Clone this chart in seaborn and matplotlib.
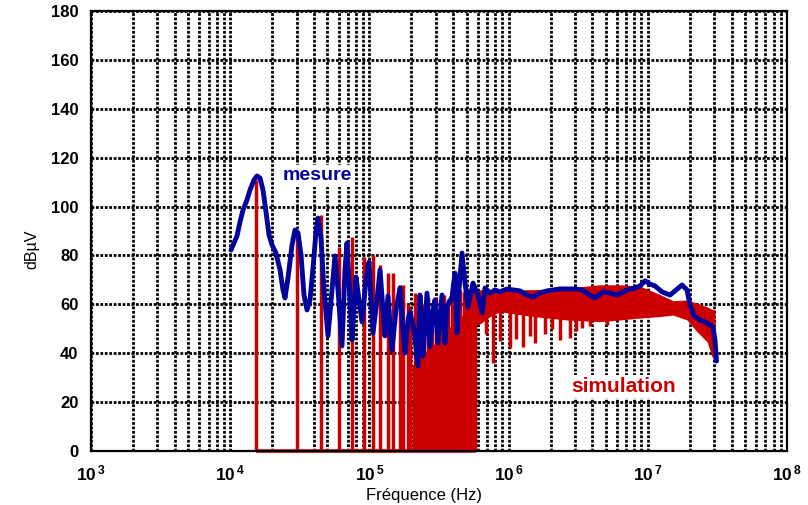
import numpy as np
import pandas as pd
import matplotlib
matplotlib.use("Agg")
import matplotlib.pyplot as plt
from matplotlib.ticker import FixedLocator, FuncFormatter, NullFormatter, LogLocator
import seaborn as sns

# ---------------- data ----------------
# measured spectrum ("mesure")
mes_freq_khz = [10.13, 10.65, 11.19, 11.76, 12.36, 13.20, 13.88, 14.83, 15.58, 16.37,
                17.20, 18.08, 19.00, 19.97, 21.33, 22.79, 23.95, 24.76, 26.02, 27.80,
                29.21, 30.70, 32.26, 33.90, 35.63, 37.44, 39.34, 41.34, 42.73, 44.90,
                47.19, 50.42, 53.86, 56.60, 59.48, 63.56, 66.79, 69.04, 72.55, 74.99,
                80.11, 84.19, 88.47, 94.53, 99.33, 106.1, 113.4, 119.2, 125.2, 129.4,
                136.0, 145.3, 155.3, 165.9, 174.3, 180.2, 189.4, 195.7, 209.1, 223.4,
                230.9, 242.7, 259.3, 272.5, 286.4, 296.0, 311.1, 332.4, 349.3, 361.1,
                392.2, 412.0, 425.9, 440.3, 462.7, 486.3, 510.9, 555.0, 603.0, 644.1,
                676.9, 735.3, 798.8, 867.7, 974.0, 1076, 1208, 1356, 1497, 1681,
                1887, 2340, 3000, 3368, 3844, 4176, 4767, 5350, 6007, 7090,
                8091, 8790, 9548, 10370, 11270, 12650, 14440, 15680, 17610, 19130,
                20100, 21480, 23710, 26630, 29400, 30390, 31160]
mes_db = [82.2, 85.1, 88.0, 93.7, 98.6, 102.7, 106.8, 110.9, 112.5, 111.7,
          106.8, 97.8, 88.4, 84.3, 81.0, 74.1, 65.9, 62.6, 70.8, 84.3,
          90.4, 89.2, 80.2, 63.8, 57.7, 61.8, 74.9, 89.6, 95.3, 87.2,
          65.9, 47.1, 65.9, 79.8, 65.9, 43.0, 74.1, 85.1, 61.8, 45.4,
          71.2, 61.8, 52.8, 70.0, 77.3, 48.3, 61.8, 74.1, 57.7, 47.1,
          63.4, 41.3, 57.7, 66.7, 49.5, 40.1, 53.6, 56.9, 49.5, 34.8,
          63.8, 38.9, 64.6, 42.6, 57.7, 61.8, 44.2, 63.8, 44.2, 58.9,
          63.0, 72.8, 48.3, 65.9, 81.0, 68.7, 58.9, 68.7, 63.8, 56.5,
          66.7, 64.6, 65.9, 65.1, 66.3, 65.9, 65.5, 63.8, 63.0, 64.6,
          65.5, 66.3, 66.3, 65.9, 63.8, 62.6, 65.1, 64.6, 63.8, 65.9,
          66.7, 67.5, 69.6, 68.3, 67.5, 65.1, 63.8, 65.5, 67.9, 65.9,
          59.7, 55.2, 53.6, 52.4, 50.7, 45.4, 36.8]

# simulated spectrum ("simulation"): harmonic lines rising from 0 dB
sim_spike_freq_khz = [15.33, 30.20, 44.90, 60.47, 74.99, 91.45, 106.1, 119.2, 136.0, 147.7,
                      165.9, 174.3, 189.4, 195.7, 212.6, 230.9, 246.7, 263.6, 281.7, 300.9,
                      321.5, 343.5, 367.1, 392.2, 418.9, 447.6, 478.2, 510.9, 545.9, 573.6]
sim_spike_db = [110.9, 89.2, 96.6, 83.5, 87.6, 79.4, 80.2, 76.1, 72.8, 72.8,
                68.0, 67.9, 60.0, 58.5, 64.6, 62.0, 60.0, 63.0, 58.0, 63.0,
                61.0, 64.0, 62.0, 65.0, 64.0, 66.0, 65.0, 66.0, 67.0, 66.0]

# simulated spectrum: dense band (lower / upper envelope)
sim_band_freq_khz = [202.3, 230.9, 272.5, 321.5, 379.3, 447.6, 510.9, 555.0, 583.0, 583.0,
                     623.0, 735.3, 867.7, 1497, 2627, 4536, 6316, 8790, 12240, 15170,
                     19130, 22560, 26630, 28930, 30390]
sim_band_lo_db = [0, 0, 0, 0, 0, 0, 0, 0, 0, 52,
                  52, 55, 57, 55, 53.6, 52.9, 53.6, 54.4, 55, 55.6,
                  53.6, 48.8, 44.7, 38.6, 36.5]
sim_band_hi_db = [35, 38.5, 42.6, 45.4, 50.8, 53.6, 60.5, 63, 64, 64,
                  66, 66, 66, 66, 66.7, 68, 68, 67.5, 64, 61.5,
                  61.8, 60.5, 59, 58, 57.7]

# simulated spectrum: deep notches inside the band
sim_dip_freq_khz = [688, 773, 868, 1023, 1131, 1270, 1425, 1550, 1826, 2050,
                    2340, 2760, 3050, 3368, 3844, 5093]
sim_dip_db = [48, 36, 45, 42, 46, 42.6, 47, 44, 48, 50,
              45.4, 46.2, 49, 50.3, 51, 51.6]

x_major = [1e3, 1e4, 1e5, 1e6, 1e7, 1e8]
x_exponents = [3, 4, 5, 6, 7, 8]
y_ticks = [0, 20, 40, 60, 80, 100, 120, 140, 160, 180]

BLUE = "#02029c"
RED = "#cc0000"

# ---------------- style ----------------
sns.set_theme(style="white")
plt.rcParams['font.family'] = ['Liberation Sans', 'DejaVu Sans']
plt.rcParams['mathtext.fontset'] = 'custom'
plt.rcParams['mathtext.rm'] = 'Liberation Sans:bold'
plt.rcParams['mathtext.bf'] = 'Liberation Sans:bold'
plt.rcParams['mathtext.it'] = 'Liberation Sans:bold'
plt.rcParams['text.color'] = 'black'
plt.rcParams['xtick.color'] = 'black'
plt.rcParams['ytick.color'] = 'black'
plt.rcParams['axes.labelcolor'] = 'black'

fig = plt.figure(figsize=(8.08, 5.05), dpi=100)
ax = fig.add_axes([91 / 808, 54 / 505, 696 / 808, 440 / 505])
ax.set_xscale('log')
ax.set_xlim(x_major[0], x_major[-1])
ax.set_ylim(y_ticks[0], y_ticks[-1])

# grid
ax.xaxis.set_major_locator(FixedLocator(x_major))
ax.xaxis.set_minor_locator(LogLocator(base=10, subs=np.arange(2, 10)))
ax.xaxis.set_minor_formatter(NullFormatter())
ax.xaxis.set_major_formatter(FuncFormatter(
    lambda v, p: r"$10^{\,%d}$" % x_exponents[x_major.index(v)] if v in x_major else ""))
ax.yaxis.set_major_locator(FixedLocator(y_ticks))
ax.set_axisbelow(True)
ax.grid(which='both', axis='x', color='black', linestyle=(0, (1, 0.6)), linewidth=2.0)
ax.grid(which='major', axis='y', color='black', linestyle=(0, (1, 0.6)), linewidth=2.0)

ax.tick_params(axis='both', which='both', length=0, colors='black')
ax.tick_params(axis='y', pad=9, labelsize=12)
ax.tick_params(axis='x', pad=9, labelsize=12.5)
for lab in ax.get_yticklabels():
    lab.set_fontweight('bold')

for s in ax.spines.values():
    s.set_visible(True)
    s.set_color('black')
    s.set_linewidth(1.6)

# ---------------- simulation ----------------
band_f = np.array(sim_band_freq_khz) * 1e3
ax.fill_between(band_f, sim_band_lo_db, sim_band_hi_db, color=RED, lw=0, zorder=2)
spike_f = np.array(sim_spike_freq_khz) * 1e3
ax.vlines(spike_f, 0, sim_spike_db, color=RED, lw=2.5, zorder=2)
dip_f = np.array(sim_dip_freq_khz) * 1e3
ax.vlines(dip_f, sim_dip_db, 60, color=RED, lw=2.5, zorder=2)
# baseline at 0 dB along the harmonics
ax.plot([spike_f[0], band_f[8]], [0, 0], color=RED, lw=2.6, zorder=2, clip_on=False,
        solid_capstyle='butt')

# ---------------- mesure ----------------
df_mes = pd.DataFrame({"freq": np.array(mes_freq_khz) * 1e3, "db": mes_db})
sns.lineplot(data=df_mes, x="freq", y="db", sort=False, estimator=None,
             color=BLUE, lw=3.5, ax=ax, zorder=3)
ax.set_xlabel("")
ax.set_ylabel("")

# ---------------- text ----------------
box = dict(facecolor='white', edgecolor='none', pad=1.5)
ax.text(0.3247, 0.625, "mesure", transform=ax.transAxes, color=BLUE,
        fontsize=14, fontweight='bold', ha='center', va='center', zorder=5, bbox=box)
ax.text(0.765, 0.147, "simulation", transform=ax.transAxes, color=RED,
        fontsize=15, fontweight='bold', ha='center', va='center', zorder=5, bbox=box)

fig.text(32 / 808, 1 - 249 / 505, "dBµV", rotation=90, ha='center', va='center',
         fontsize=11.5, color='black')
fig.text(424 / 808, 2 / 505, "Fréquence (Hz)", ha='center', va='bottom',
         fontsize=12, color='black')

fig.savefig("out.png", dpi=100)
